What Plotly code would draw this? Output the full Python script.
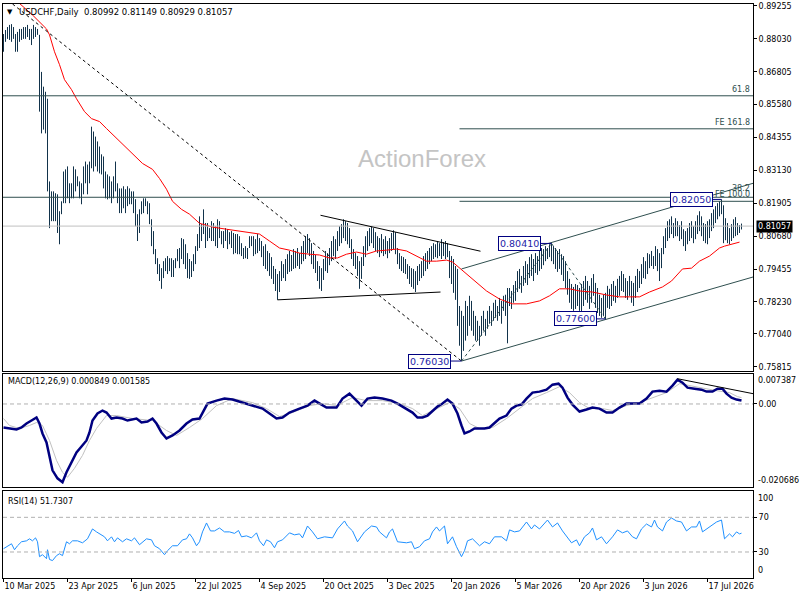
import plotly.graph_objects as go

# USDCHF daily bars from 10 Mar 2025, highs and lows in pips (1 pip = 0.0001)
high_pips = [
    8821, 8836, 8847, 8855, 8858, 8847, 8821, 8829, 8840, 8840,
    8847, 8847, 8855, 8840, 8840, 8855, 8847, 8840, 8818, 8680,
    8625, 8606, 8580, 8272, 8235, 8235, 8228, 8224, 8161, 8198,
    8309, 8317, 8328, 8265, 8265, 8328, 8317, 8291, 8272, 8265,
    8328, 8346, 8335, 8346, 8476, 8458, 8439, 8421, 8402, 8373,
    8365, 8309, 8298, 8291, 8272, 8291, 8346, 8265, 8246, 8246,
    8254, 8243, 8254, 8246, 8235, 8235, 8206, 8150, 8168, 8198,
    8209, 8209, 8198, 8191, 8131, 8087, 8020, 7986, 7964, 7949,
    7975, 7986, 7994, 7986, 7986, 7979, 7986, 8020, 8024, 8061,
    8057, 8038, 8005, 7983, 7975, 8001, 8031, 8076, 8142, 8113,
    8168, 8117, 8117, 8098, 8124, 8117, 8105, 8131, 8124, 8087,
    8087, 8098, 8094, 8083, 8087, 8080, 8076, 8076, 8068, 8042,
    8024, 8031, 8024, 8068, 8068, 8068, 8057, 8076, 8061, 8050,
    8031, 8038, 8013, 8005, 7990, 7957, 7946, 7927, 7938, 7975,
    7964, 7983, 8001, 8013, 7998, 8020, 8013, 8024, 8005, 8031,
    8050, 8068, 8076, 8061, 8042, 8013, 7998, 7975, 7957, 7949,
    7983, 8013, 8005, 8024, 8050, 8068, 8057, 8087, 8105, 8113,
    8131, 8124, 8117, 8098, 8057, 8020, 8005, 7994, 7975, 7990,
    8031, 8068, 8087, 8098, 8105, 8098, 8083, 8068, 8061, 8076,
    8057, 8068, 8050, 8061, 8080, 8090, 8083, 8024, 8005, 7994,
    7990, 7983, 7964, 7957, 7949, 7946, 7938, 7957, 7964, 7975,
    7994, 8005, 8013, 8024, 8031, 8042, 8038, 8050, 8042, 8057,
    8046, 8050, 8042, 8013, 7994, 7983, 7957, 7946, 7808, 7790,
    7771, 7827, 7808, 7846, 7827, 7790, 7771, 7753, 7734, 7771,
    7790, 7760, 7790, 7808, 7790, 7820, 7831, 7808, 7838, 7827,
    7846, 7850, 7875, 7875, 7864, 7886, 7901, 7938, 7946, 7920,
    7957, 7975, 7964, 7990, 8001, 7983, 8005, 7994, 8013, 8024,
    8020, 8031, 8024, 8038, 8041, 8031, 8024, 8013, 8020, 8001,
    7994, 7975, 7938, 7909, 7890, 7879, 7890, 7886, 7875, 7890,
    7901, 7920, 7901, 7883, 7912, 7927, 7894, 7875, 7850, 7838,
    7850, 7857, 7883, 7872, 7890, 7901, 7883, 7909, 7920, 7938,
    7927, 7912, 7901, 7920, 7901, 7894, 7920, 7946, 7938, 7964,
    7990, 7975, 8005, 8001, 8013, 7994, 8031, 8020, 8005, 8024,
    8068, 8098, 8124, 8131, 8142, 8117, 8135, 8124, 8109, 8124,
    8094, 8087, 8098, 8117, 8124, 8105, 8124, 8146, 8161, 8142,
    8117, 8113, 8124, 8131, 8154, 8168, 8180, 8191, 8198, 8205,
    8183, 8135, 8117, 8098, 8113, 8131, 8139, 8117, 8109, 8115,
]
low_pips = [
    8755, 8792, 8803, 8799, 8792, 8803, 8755, 8755, 8792, 8799,
    8803, 8803, 8810, 8799, 8780, 8803, 8810, 8818, 8532, 8451,
    8465, 8451, 8235, 8098, 8124, 8124, 8124, 8080, 8038, 8150,
    8191, 8191, 8209, 8191, 8209, 8209, 8235, 8254, 8209, 8187,
    8224, 8265, 8224, 8265, 8321, 8309, 8328, 8309, 8302, 8298,
    8246, 8209, 8205, 8209, 8191, 8209, 8235, 8191, 8154, 8154,
    8172, 8154, 8180, 8187, 8187, 8154, 8105, 8050, 8080, 8150,
    8154, 8180, 8150, 8113, 8031, 8001, 7964, 7927, 7901, 7872,
    7912, 7938, 7927, 7938, 7916, 7916, 7949, 7975, 7949, 7983,
    7964, 7946, 7912, 7909, 7916, 7938, 7964, 8013, 8024, 8050,
    8076, 8024, 8050, 8061, 8050, 8050, 8031, 8024, 8061, 8038,
    8024, 8050, 8020, 8038, 8024, 8001, 8005, 8001, 8001, 7994,
    7983, 7986, 7983, 8024, 8031, 7994, 8001, 8005, 8013, 7990,
    7957, 7946, 7938, 7920, 7909, 7890, 7864, 7831, 7860, 7901,
    7912, 7901, 7927, 7935, 7938, 7946, 7949, 7957, 7946, 7964,
    7975, 7983, 8005, 7994, 7964, 7946, 7931, 7901, 7872, 7864,
    7905, 7938, 7931, 7960, 7975, 7994, 7983, 8013, 8031, 8042,
    8061, 8050, 8038, 8024, 7983, 7957, 7946, 7920, 7872, 7909,
    7957, 7990, 8013, 8031, 8042, 8024, 8013, 8005, 7990, 8005,
    7994, 8001, 7986, 8005, 8013, 8020, 8001, 7964, 7946, 7938,
    7931, 7927, 7909, 7890, 7879, 7872, 7860, 7886, 7901, 7912,
    7920, 7938, 7946, 7964, 7975, 7983, 7990, 7986, 7994, 7983,
    7994, 7983, 7990, 7912, 7890, 7857, 7831, 7734, 7660, 7603,
    7641, 7679, 7697, 7734, 7716, 7697, 7679, 7679, 7660, 7697,
    7716, 7697, 7723, 7742, 7734, 7753, 7764, 7753, 7771, 7742,
    7790, 7771, 7669, 7808, 7797, 7820, 7827, 7860, 7872, 7857,
    7883, 7894, 7886, 7912, 7920, 7901, 7931, 7924, 7938, 7946,
    7960, 7975, 7983, 7990, 7975, 7964, 7946, 7935, 7946, 7924,
    7901, 7875, 7850, 7820, 7797, 7790, 7797, 7808, 7790, 7782,
    7808, 7831, 7820, 7797, 7820, 7846, 7801, 7782, 7771, 7764,
    7771, 7760, 7801, 7797, 7808, 7827, 7820, 7838, 7846, 7864,
    7860, 7838, 7831, 7846, 7820, 7808, 7838, 7860, 7875, 7890,
    7912, 7909, 7927, 7949, 7957, 7946, 7957, 7938, 7901, 7949,
    8001, 8024, 8050, 8061, 8076, 8061, 8068, 8068, 8050, 8057,
    8031, 8013, 8038, 8050, 8061, 8042, 8057, 8076, 8087, 8068,
    8050, 8042, 8038, 8061, 8087, 8098, 8117, 8131, 8142, 8150,
    8042, 8053, 8042, 8038, 8050, 8061, 8068, 8072, 8080, 8093,
]

# red moving average, every few bars
ma_bar = [8, 14.5, 21.5, 23, 25.5, 28, 30.5, 34, 36.5, 40.5,
          44, 48, 51.5, 54.5, 59.5, 64.5, 69.5, 74.5, 78, 81.5,
          84.5, 89, 93, 98, 104.5, 111.5, 118, 123, 128, 133,
          138, 143, 148, 153, 158, 163, 167, 171.5, 176.5, 181.5,
          186.5, 191.5, 196.5, 201.5, 206.5, 211.5, 216.5, 221.5, 224.5, 228,
          234.5, 241.5, 248, 254.5, 261.5, 268, 273, 278, 283, 288,
          294.5, 301.5, 308, 318, 323, 329.5, 334, 339.5, 344, 348,
          353, 358, 360.5, 364.5, 368]
ma_price = [0.8935, 0.8892, 0.8840, 0.8818, 0.8755, 0.8707, 0.8651, 0.8614, 0.8580, 0.8532,
            0.8506, 0.8495, 0.8469, 0.8447, 0.8413, 0.8376, 0.8339, 0.8317, 0.8283, 0.8243,
            0.8198, 0.8168, 0.8150, 0.8116, 0.8102, 0.8094, 0.8087, 0.8079, 0.8076, 0.8050,
            0.8024, 0.8016, 0.8005, 0.8001, 0.7998, 0.7987, 0.7987, 0.8001, 0.8009, 0.8001,
            0.8013, 0.8016, 0.8020, 0.8013, 0.7994, 0.7975, 0.7975, 0.7979, 0.7972, 0.7950,
            0.7909, 0.7864, 0.7834, 0.7816, 0.7816, 0.7827, 0.7846, 0.7872, 0.7872, 0.7864,
            0.7860, 0.7849, 0.7842, 0.7842, 0.7860, 0.7879, 0.7901, 0.7946, 0.7949, 0.7975,
            0.7994, 0.8024, 0.8031, 0.8039, 0.8046]

# MACD(12,26,9), values in units of 0.001
macd_bar = [0, 3, 6.5, 9, 11.5, 14, 16.5, 18, 19.5, 21.5,
            23, 24.5, 27, 29.5, 31.5, 34, 36.5, 39, 41.5, 43,
            44.5, 47, 49.5, 51.5, 54, 56.5, 59.5, 62, 66.5, 69,
            72, 74.5, 76.5, 79, 81.5, 84.5, 88, 91.5, 94.5, 98,
            99.5, 102, 106.5, 110.5, 114.5, 119.5, 124.5, 129.5, 133, 136.5,
            139.5, 143, 148, 152, 155.5, 158, 161.5, 166.5, 169.5, 173,
            175.5, 179, 182, 185.5, 189.5, 194, 197, 201.5, 204.5, 207,
            209.5, 212, 214.5, 217, 219.5, 222, 224.5, 227, 229, 230.5,
            233, 235.5, 238, 240.5, 243, 245.5, 248, 251.5, 254, 256.5,
            259, 261.5, 264.5, 268, 271.5, 274.5, 277.5, 279.5, 282, 284.5,
            288, 291.5, 294.5, 298, 301.5, 304.5, 308, 311.5, 318, 321.5,
            324.5, 328, 331.5, 334.5, 337, 339.5, 342, 345.5, 349, 351.5,
            354.5, 357, 359.5, 361.5, 364, 366.5, 369]
macd_main = [-5.84, -6.08, -6.33, -5.84, -4.85, -4.11, -3.36, -4.85, -7.32, -9.55,
             -12.76, -16.47, -18.45, -19.44, -16.96, -14.49, -12.02, -10.54, -9.05, -7.07,
             -4.11, -2.37, -1.63, -2.13, -3.61, -3.36, -3.61, -4.11, -3.61, -4.60,
             -4.35, -3.61, -4.85, -7.07, -8.56, -7.81, -6.58, -4.85, -3.86, -3.61,
             -2.13, 0.10, 0.84, 1.34, 1.09, 0.35, -0.40, -1.14, -2.37, -3.61,
             -3.36, -2.13, -1.14, -0.40, 0.84, 0.10, -0.89, -0.89, 1.34, 2.57,
             1.34, -0.40, 1.34, 1.58, 1.34, 0.84, 0.10, -1.14, -2.13, -3.36,
             -3.36, -2.87, -1.63, -0.64, 0.10, 1.09, 0.10, -2.37, -5.34, -7.32,
             -6.83, -6.08, -6.08, -6.08, -5.84, -4.60, -3.61, -2.87, -1.14, -0.40,
             -0.15, 1.34, 2.82, 3.07, 3.56, 4.80, 5.04, 4.06, 1.58, -0.15,
             -1.88, -1.38, -0.89, -1.14, -2.13, -2.13, -0.89, 0.10, 0.10, 1.34,
             3.07, 3.31, 3.07, 4.55, 6.03, 5.29, 4.06, 3.81, 3.56, 3.07,
             3.07, 3.81, 3.81, 2.57, 1.58, 1.09, 0.849]
signal_bar = [0, 3, 8, 13, 16.5, 19.5, 23, 26.5, 29.5, 32,
              35.5, 39.5, 43, 46.5, 51.5, 56.5, 64.5, 74.5, 81.5, 86.5,
              93, 99.5, 106.5, 114.5, 124.5, 131.5, 138, 144.5, 153, 159.5,
              166.5, 174.5, 181.5, 189.5, 198, 204.5, 209.5, 216.5, 223, 228,
              233, 238, 244.5, 251.5, 258, 264.5, 271.5, 278, 283, 288,
              293, 299.5, 304.5, 311.5, 318, 324.5, 331.5, 338, 343, 349.5,
              356.5, 363, 367, 369]
macd_signal = [-3.61, -5.34, -6.08, -5.34, -4.60, -5.34, -9.05, -14.0, -16.96, -18.2,
               -15.97, -12.76, -9.05, -6.08, -2.87, -2.87, -3.61, -4.11, -6.58, -7.81,
               -5.84, -3.61, -0.40, 1.34, 0.35, -1.14, -3.12, -2.13, -0.40, 0.10,
               -0.40, 1.58, 0.84, 0.84, 0.10, -1.14, -2.87, -1.14, 0.35, -1.14,
               -4.85, -6.08, -5.84, -3.61, -1.14, 1.34, 2.82, 4.30, 2.82, 0.35,
               -1.14, -1.14, -1.63, -0.40, 0.35, 1.58, 2.82, 5.04, 4.55, 3.81,
               3.31, 2.82, 1.83, 1.585]

# RSI(14)
rsi_bar = [0, 1.5, 4, 5.5, 7, 9, 11.5, 13, 14.5, 16,
           17, 18, 19.5, 21.5, 22, 23, 24.5, 26.5, 28, 29.5,
           31.5, 33, 34.5, 37, 39.5, 42, 44.5, 46.5, 48, 50.5,
           52, 54, 55.5, 57, 59.5, 61.5, 64, 65.5, 68, 69.5,
           71.5, 74, 75.5, 78, 80.5, 82, 84.5, 87, 89.5, 91.5,
           93, 94.5, 96.5, 98, 99.5, 101.5, 103.5, 105.5, 108, 110.5,
           113, 115.5, 117.5, 119, 121.5, 124, 126.5, 128, 130, 131.5,
           133.5, 135.5, 137, 139.5, 143, 145.5, 148, 149.5, 152, 154.5,
           157, 160.5, 164.5, 167, 170.5, 172, 174.5, 177, 180.5, 184,
           186.5, 188, 191.5, 193, 194.5, 197, 201.5, 204, 205.5, 208,
           210.5, 213, 214.5, 216.5, 218, 220.5, 222, 224.5, 226.5, 229,
           230.5, 232, 234.5, 238, 240.5, 243, 245.5, 249, 251.5, 253,
           255.5, 258, 261.5, 264, 265.5, 268, 272, 274.5, 277, 279.5,
           284, 286.5, 288, 290.5, 293, 294.5, 296.5, 299, 301.5, 304.5,
           307, 309.5, 312, 314.5, 316.5, 319, 321.5, 324, 325.5, 327,
           329.5, 331.5, 334, 336.5, 339, 341.5, 344, 346.5, 348, 349.5,
           353, 356.5, 359, 360.5, 363, 364.5, 366.5, 368, 369]
rsi_value = [33.8, 36.1, 39.5, 32.6, 37.2, 41.8, 42.9, 45.2, 42.9, 46.3,
             41.8, 24.6, 26.9, 22.3, 32.6, 21.4, 20.1, 25.8, 28.0, 25.8,
             41.8, 39.5, 42.9, 42.9, 40.6, 45.2, 56.6, 53.2, 50.9, 47.5,
             42.9, 47.5, 41.8, 46.3, 41.8, 45.2, 42.9, 46.3, 38.4, 41.8,
             45.2, 44.0, 37.2, 33.8, 26.9, 31.5, 37.2, 37.2, 44.0, 45.2,
             50.9, 46.3, 37.2, 41.8, 53.2, 63.5, 54.3, 54.3, 57.7, 53.2,
             53.2, 51.5, 54.8, 47.5, 48.6, 46.3, 52.1, 42.9, 37.2, 44.0,
             41.8, 34.9, 41.8, 44.0, 52.1, 49.8, 50.9, 46.3, 60.0, 53.2,
             45.2, 47.5, 46.3, 56.6, 65.8, 60.0, 54.3, 41.8, 53.2, 60.0,
             58.9, 53.2, 46.3, 53.2, 56.6, 41.8, 40.6, 41.8, 33.8, 36.1,
             42.9, 45.2, 53.2, 58.9, 54.3, 60.0, 39.5, 47.5, 36.1, 24.6,
             31.5, 42.9, 45.2, 37.2, 41.8, 39.5, 47.5, 47.5, 42.9, 55.5,
             53.2, 54.3, 64.6, 56.6, 61.2, 56.6, 66.9, 58.9, 63.5, 54.3,
             40.6, 44.0, 37.2, 47.5, 52.1, 57.7, 44.0, 47.5, 39.5, 47.5,
             55.5, 52.1, 54.3, 47.5, 45.2, 56.6, 62.3, 58.9, 66.9, 58.9,
             54.3, 64.6, 69.2, 65.8, 64.6, 54.3, 58.9, 58.9, 65.8, 53.2,
             58.9, 64.6, 66.9, 45.2, 50.9, 47.5, 53.2, 50.9, 51.7]

date_pos = [0, 32, 64, 96, 128, 160, 192, 224, 256, 288, 320, 352]
date_text = ["10 Mar 2025", "23 Apr 2025", "6 Jun 2025", "22 Jul 2025", "4 Sep 2025",
             "20 Oct 2025", "3 Dec 2025", "20 Jan 2026", "5 Mar 2026", "20 Apr 2026",
             "3 Jun 2026", "17 Jul 2026"]
price_ticks = [0.75815, 0.77040, 0.78230, 0.79455, 0.80680, 0.81905,
               0.83130, 0.84355, 0.85580, 0.86805, 0.88030, 0.89255]

last_price = 0.81057

assert len(high_pips) == len(low_pips)
n = len(high_pips)
high = [p / 10000 for p in high_pips]
low = [p / 10000 for p in low_pips]

# each daily bar is a thin vertical high-low stroke, as on the MT4 chart
bar_x, bar_y = [], []
for i in range(n):
    bar_x += [i, i, None]
    bar_y += [low[i], high[i], None]

BAR = "#12334b"
SLATE = "#2f4f4f"
NAVY = "#000080"
LABEL = "#2424a8"
FONT = "DejaVu Sans"
# quarter-bar offset keeps each 1px stroke on a whole pixel column
XMIN, XMAX = -0.25, 374.75

fig = go.Figure()
fig.add_trace(go.Scatter(x=bar_x, y=bar_y, mode="lines", line=dict(color=BAR, width=1),
                         xaxis="x", yaxis="y"))
fig.add_trace(go.Scatter(x=ma_bar, y=ma_price, mode="lines",
                         line=dict(color="#ff0000", width=1), xaxis="x", yaxis="y"))
fig.add_trace(go.Scatter(x=signal_bar, y=[v / 1000 for v in macd_signal], mode="lines",
                         line=dict(color="#c0c0c0", width=1), xaxis="x2", yaxis="y2"))
fig.add_trace(go.Scatter(x=macd_bar, y=[v / 1000 for v in macd_main], mode="lines",
                         line=dict(color=NAVY, width=2.5), xaxis="x2", yaxis="y2"))
fig.add_trace(go.Scatter(x=rsi_bar, y=rsi_value, mode="lines",
                         line=dict(color="#1e90ff", width=1), xaxis="x3", yaxis="y3"))


def seg(x0, y0, x1, y1, color, xref="x", yref="y", dash="solid", width=1):
    return dict(type="line", x0=x0, y0=y0, x1=x1, y1=y1, xref=xref, yref=yref,
                line=dict(color=color, width=width, dash=dash))


shapes = [
    seg(0, last_price, 1, last_price, "#c0c0c0", xref="x domain"),
    seg(0, 0.8591, 1, 0.8591, SLATE, xref="x domain"),          # 61.8
    seg(0, 0.8213, 1, 0.8213, SLATE, xref="x domain"),          # 38.2
    seg(228, 0.8468, XMAX, 0.8468, SLATE),                      # FE 161.8
    seg(228, 0.8198, XMAX, 0.8198, SLATE),                      # FE 100.0
    seg(4.5, 0.8933, 229, 0.7603, "black", dash="3px,3px"),     # falling trend
    seg(158.5, 0.8146, 238.5, 0.8012, "black"),                 # triangle top
    seg(137, 0.7831, 218.5, 0.7860, "black"),                   # triangle bottom
    seg(229, 0.7946, XMAX, 0.8265, SLATE),                      # channel top
    seg(229, 0.7603, XMAX, 0.7916, SLATE),                      # channel bottom
    seg(229, 0.7603, 274, 0.8041, SLATE, dash="3px,3px"),
    seg(274, 0.8041, 301, 0.7760, SLATE, dash="3px,3px"),
    seg(0, 0, 1, 0, "#b0b0b0", xref="x2 domain", yref="y2", dash="4px,3px"),
    seg(337, 0.00627, XMAX, 0.00256, "black", xref="x2", yref="y2"),
    seg(0, 70, 1, 70, "#b0b0b0", xref="x3 domain", yref="y3", dash="4px,3px"),
    seg(0, 30, 1, 30, "#b0b0b0", xref="x3 domain", yref="y3", dash="4px,3px"),
]


def note(text, x, y, xanchor="left", yanchor="middle", xref="paper", yref="paper",
         size=8, color="black", **kw):
    return dict(text=text, x=x, y=y, xref=xref, yref=yref, xanchor=xanchor, yanchor=yanchor,
                showarrow=False, font=dict(family=FONT, size=size, color=color), **kw)


def price_box(text, bar, price, ax):
    return dict(text=text, x=bar, y=price, xref="x", yref="y", showarrow=True, arrowhead=0,
                arrowwidth=1, arrowcolor=NAVY, ax=ax, ay=0, bgcolor="white", bordercolor=NAVY,
                borderwidth=1, borderpad=1, font=dict(family=FONT, size=9.5, color=LABEL))


annotations = [
    note("▼", 0.0093, 0.986, xanchor="center", size=7),
    note("USDCHF,Daily  0.80992 0.81149 0.80929 0.81057", 0.018, 0.986, size=8.5),
    note("MACD(12,26,9) 0.000849 0.001585", 0.004, 0.342),
    note("RSI(14) 51.7307", 0.004, 0.1337),
    dict(text="ActionForex", x=0.5587, y=0.7309, xref="paper", yref="paper",
         xanchor="center", yanchor="middle", showarrow=False,
         font=dict(family="Liberation Sans", size=24, color="#c4c4c4")),
    note("61.8", 0.999, 0.8591, xanchor="right", yanchor="bottom", yref="y", color=SLATE),
    note("FE 161.8", 0.999, 0.8468, xanchor="right", yanchor="bottom", yref="y", color=SLATE),
    note("38.2", 0.999, 0.8213, xanchor="right", yanchor="bottom", yref="y", color=SLATE, yshift=2),
    note("FE 100.0", 0.999, 0.8198, xanchor="right", yanchor="bottom", yref="y", color=SLATE),
    price_box("0.76030", 229, 0.7603, -32),
    price_box("0.80410", 274, 0.8041, -32),
    price_box("0.77600", 301, 0.7760, -30),
    price_box("0.82050", 359, 0.8205, -30),
    dict(text="0.81057", x=1, y=last_price, xref="paper", yref="y", xanchor="left",
         yanchor="middle", showarrow=False, bgcolor="black", borderpad=1, xshift=3,
         font=dict(family=FONT, size=8, color="white")),
    note("0.007387", 1, 0.007387, yanchor="top", yref="y2", xshift=3),
    note("-0.020686", 1, -0.020686, yanchor="bottom", yref="y2", xshift=3),
    note("100", 1, 100, yanchor="top", yref="y3", xshift=3, yshift=-1),
    note("0", 1, 0, yanchor="bottom", yref="y3", xshift=3, yshift=1),
]

frame = dict(showline=True, linecolor="black", linewidth=1, mirror=True,
             showgrid=False, zeroline=False)
tickfont = dict(family=FONT, size=8, color="black")
xcommon = dict(domain=[0, 1], range=[XMIN, XMAX], **frame)
ycommon = dict(side="right", ticks="outside", ticklen=3, tickcolor="black",
               tickfont=tickfont, ticklabeloverflow="allow", **frame)

fig.update_layout(
    width=800, height=600,
    margin=dict(l=3, r=47, t=2, b=22),
    paper_bgcolor="white", plot_bgcolor="white",
    showlegend=False,
    font=dict(family=FONT, size=8, color="black"),
    xaxis=dict(anchor="y", showticklabels=False, ticks="", **xcommon),
    xaxis2=dict(anchor="y2", matches="x", showticklabels=False, ticks="", **xcommon),
    xaxis3=dict(anchor="y3", matches="x", tickvals=date_pos, ticktext=date_text,
                ticks="outside", ticklen=3, tickcolor="black", tickfont=tickfont,
                ticklabelposition="outside right", ticklabeloverflow="allow", **xcommon),
    yaxis=dict(anchor="x", domain=[0.3611, 1], range=[0.75669, 0.89329],
               tickvals=price_ticks, ticktext=[f"{v:.5f}" for v in price_ticks], **ycommon),
    yaxis2=dict(anchor="x2", domain=[0.158, 0.355], range=[-0.020686, 0.007387],
                tickvals=[0], ticktext=["0.00"], **ycommon),
    yaxis3=dict(anchor="x3", domain=[0, 0.151], range=[0, 100],
                tickvals=[30, 70], ticktext=["30", "70"], **ycommon),
    shapes=shapes,
    annotations=annotations,
)

# the page body has a default 8px margin; drop it so the 800x600 figure fills the window
fig.write_html("out.html", config={"displayModeBar": False},
               post_script="document.body.style.margin='0px';document.body.style.overflow='hidden';")
